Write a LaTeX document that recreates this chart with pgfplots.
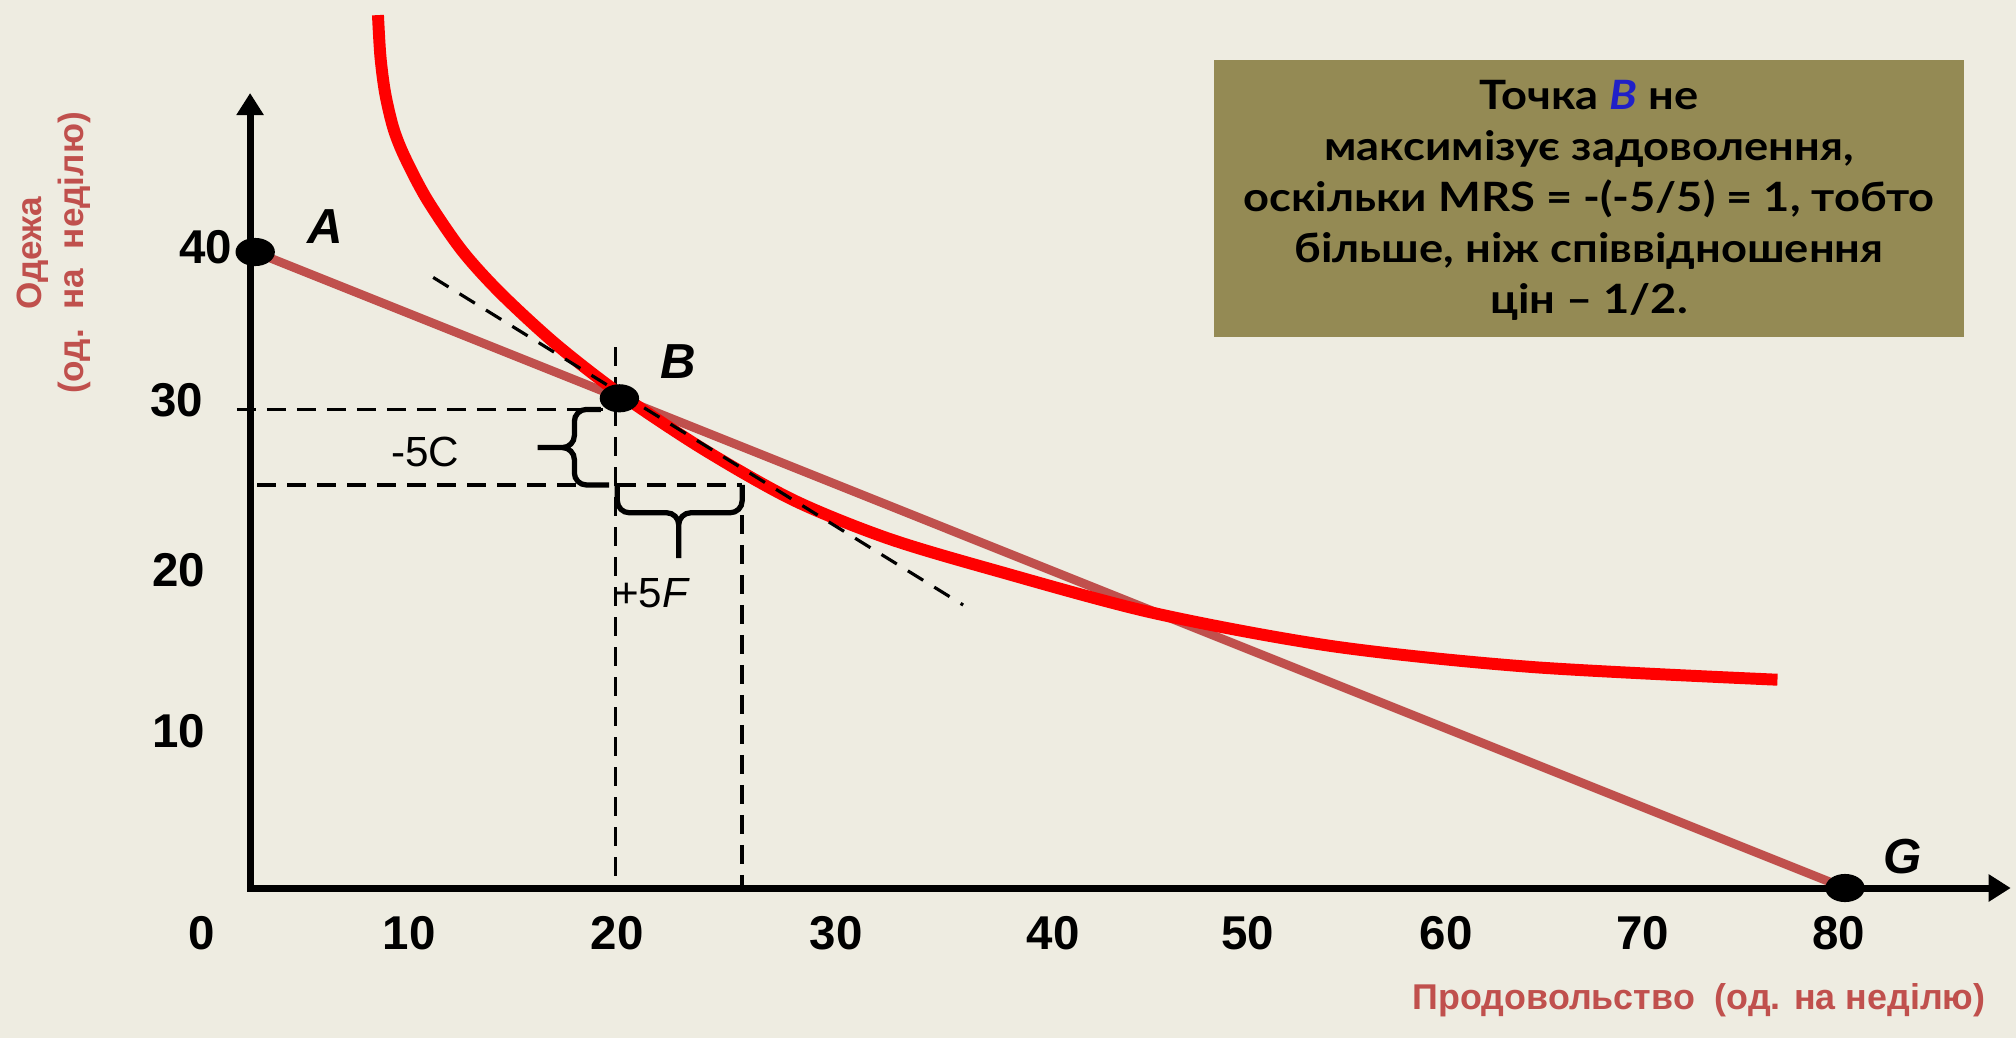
\documentclass[border=0pt]{standalone}
\usepackage{fontspec}
\setmainfont{Liberation Sans}
\newfontfamily\boxfont[FakeStretch=1.12]{Lato}
\usepackage{pgfplots}
\pgfplotsset{compat=1.18}
\usetikzlibrary{arrows.meta}

\definecolor{slidebg}{HTML}{EEECE1}
\definecolor{budget}{HTML}{C0504D}
\definecolor{notebox}{HTML}{948A54}
\definecolor{labelred}{HTML}{C0504D}
\definecolor{pointblue}{HTML}{2020C8}

\tikzset{
  guide/.style={black, line width=0.95pt, dash pattern=on 0.19cm off 0.11cm},
  ticklbl/.style={font=\bfseries\fontsize{13.5}{16}\selectfont},
  ptlbl/.style={font=\bfseries\itshape\fontsize{14}{16}\selectfont},
}

\begin{document}
\begin{tikzpicture}
% slide background
\fill[slidebg] (0,0) rectangle (20.16,10.38);

\begin{axis}[
  anchor=origin, at={(2.02cm,1.50cm)},
  x=0.2046cm, y=0.159cm,
  xmin=-9.8, xmax=88.6, ymin=-9.4, ymax=55.8,
  hide axis, clip=false,
]
% dashed guide lines for the move away from B
\addplot[guide] coordinates {(1.7,30.1) (19.6,30.1)};
\addplot[guide] coordinates {(2.7,25.35) (26.4,25.35)};
\addplot[guide] coordinates {(20.2,34) (20.2,0)};
\addplot[guide] coordinates {(26.4,25.35) (26.4,0)};

% budget line A--G
\addplot[budget, line width=2.5pt] coordinates {(2.6,40) (80.3,0)};

% indifference curve
\addplot[red, line width=3.4pt, smooth, tension=0.5] coordinates {
  (8.60,54.9) (8.72,52.3) (8.95,50.0) (9.35,47.8) (9.9,46.0)
  (11.0,43.3) (12.7,40.1) (14.6,37.4) (17.3,34.2) (20.4,31.1)
  (24.5,27.6) (28.9,24.4) (33.5,22.0) (38.7,20.0) (46.5,17.3)
  (55.3,15.2) (65.0,13.9) (77.0,13.1)
};

% tangent at B
\addplot[black, line width=0.9pt, dash pattern=on 0.18cm off 0.13cm]
  coordinates {(11.3,38.4) (37.2,17.8)};

% braces for -5C and +5F
\draw[black, line width=1.5pt, rounded corners=0.12cm]
  (axis cs:19.5,30.1) -- (axis cs:18.2,30.1) -- (axis cs:18.2,27.7) -- (axis cs:16.4,27.7)
  (axis cs:19.9,25.35) -- (axis cs:18.2,25.35) -- (axis cs:18.2,27.7) -- (axis cs:16.4,27.7);
\draw[black, line width=1.5pt, rounded corners=0.12cm]
  (axis cs:20.3,25.35) -- (axis cs:20.3,23.6) -- (axis cs:23.3,23.6) -- (axis cs:23.3,20.75)
  (axis cs:26.4,25.35) -- (axis cs:26.4,23.6) -- (axis cs:23.3,23.6) -- (axis cs:23.3,20.75);
\node[font=\fontsize{12}{14}\selectfont] at (axis cs:10.9,27.4) {-5C};
\node[font=\fontsize{12}{14}\selectfont] at (axis cs:22.0,18.55) {+5\textit{F}};

% consumption bundles A, B, G
\addplot[only marks, mark=*, mark size=3.8pt,
  mark options={xscale=1.42, fill=black, draw=black}]
  coordinates {(2.6,40) (20.4,30.8) (80.3,0)};
\node[ptlbl] at (axis cs:6.0,41.6) {A};
\node[ptlbl] at (axis cs:23.3,33.1) {B};
\node[ptlbl] at (axis cs:83.1,1.95) {G};

% axes with arrow heads
\draw[black, line width=2pt,
  {Triangle[length=0.22cm,width=0.26cm]}-{Triangle[length=0.22cm,width=0.26cm]}]
  (axis cs:2.35,50) -- (axis cs:2.35,0) -- (axis cs:88.4,0);

% tick labels
\node[ticklbl] at (axis cs:0,-2.83) {0};
\node[ticklbl] at (axis cs:10.12,-2.83) {10};
\node[ticklbl] at (axis cs:20.3,-2.83) {20};
\node[ticklbl] at (axis cs:31.0,-2.83) {30};
\node[ticklbl] at (axis cs:41.6,-2.83) {40};
\node[ticklbl] at (axis cs:51.1,-2.83) {50};
\node[ticklbl] at (axis cs:60.8,-2.83) {60};
\node[ticklbl] at (axis cs:70.4,-2.83) {70};
\node[ticklbl] at (axis cs:80.0,-2.83) {80};
\node[ticklbl, anchor=east, inner sep=0pt] at (axis cs:1.5,40.3) {40};
\node[ticklbl, anchor=east, inner sep=0pt] at (axis cs:0.1,30.7) {30};
\node[ticklbl, anchor=east, inner sep=0pt] at (axis cs:0.2,20.0) {20};
\node[ticklbl, anchor=east, inner sep=0pt] at (axis cs:0.2,9.87) {10};
\end{axis}

% axis titles
\node[rotate=90, align=center, text=labelred,
  font=\bfseries\fontsize{10}{12}\selectfont] at (0.54,7.85)
  {Одежа\\(од.\ \ на\ \ неділю)};
\node[text=labelred, font=\bfseries\fontsize{10.2}{12}\selectfont] at (16.99,0.38)
  {Продовольство\ \ (од. на неділю)};

% explanation box
\fill[notebox] (12.14,7.01) rectangle (19.64,9.78);
\node[align=center, font=\boxfont\bfseries\fontsize{11.5}{14.5}\selectfont] at (15.89,8.38)
  {Точка \textcolor{pointblue}{\textit{B}} не\\
   максимізує задоволення,\\
   оскільки MRS = -(-5/5) = 1, тобто\\
   більше, ніж співвідношення\\
   цін – 1/2.};

\pgfresetboundingbox
\path[use as bounding box] (0,0) rectangle (20.16,10.38);
\end{tikzpicture}
\end{document}
